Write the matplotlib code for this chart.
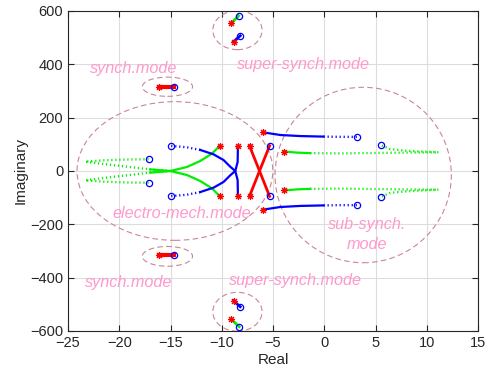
import matplotlib
matplotlib.use("Agg")
import matplotlib.pyplot as plt
from matplotlib.patches import Ellipse

plt.rcParams['font.family'] = ['Liberation Sans', 'DejaVu Sans']

# ---------------- data ----------------
# electro-mechanical mode, green loci (dotted part, solid part)
em_green_up_dot_x = [-17.14, -19.25, -21.53, -23.32, -21.5, -19.2, -16.98, -15.02]
em_green_up_dot_y = [44, 43, 40, 35, 26, 16, 6, 0]
em_green_up_sol_x = [-16.98, -15.02, -13.4, -12.1, -10.96, -10.21]
em_green_up_sol_y = [6, 0, -15, -37.5, -65, -94]
em_green_lo_dot_x = [-17.14, -19.25, -21.53, -23.32, -21.5, -19.2, -16.98, -15.02]
em_green_lo_dot_y = [-44, -43, -40, -35, -26, -16, -6, 0]
em_green_lo_sol_x = [-16.98, -15.02, -13.4, -12.1, -10.96, -10.21]
em_green_lo_sol_y = [-6, 0, 15, 37.5, 65, 94]

# electro-mechanical mode, blue loci
em_blue_up_dot_x = [-14.93, -13.4, -12.1]
em_blue_up_dot_y = [94, 89, 79]
em_blue_up_sol_x = [-12.1, -10.8, -9.82, -9.17, -8.68, -8.45, -8.42]
em_blue_up_sol_y = [79, 62.5, 41, 16, 0, -34, -94]
em_blue_lo_dot_x = [-14.93, -13.4, -12.1]
em_blue_lo_dot_y = [-94, -89, -79]
em_blue_lo_sol_x = [-12.1, -10.8, -9.82, -9.17, -8.68, -8.45, -8.42]
em_blue_lo_sol_y = [-79, -62.5, -41, -16, 0, 34, 94]

# red cross
red_x_a = [-7.29, -5.33]
red_y_a = [94, -95]
red_x_b = [-7.29, -5.33]
red_y_b = [-94, 95]

# sub-synchronous mode, blue
ss_blue_up_sol_x = [-5.98, -4.29, -2.34, -0.07]
ss_blue_up_sol_y = [145, 135, 131, 129]
ss_blue_up_dot_x = [-0.07, 1.56, 3.19]
ss_blue_up_dot_y = [129, 128, 128]
ss_blue_lo_sol_x = [-5.98, -4.29, -2.34, -0.07]
ss_blue_lo_sol_y = [-145, -135, -131, -129]
ss_blue_lo_dot_x = [-0.07, 1.56, 3.19]
ss_blue_lo_dot_y = [-129, -128, -128]

# sub-synchronous mode, green
ss_green_up_sol_x = [-3.97, -2.67, -1.37]
ss_green_up_sol_y = [73, 69, 67]
ss_green_up_dot_x = [-1.37, 1.56, 4.81, 8.07, 11.15, 8.07, 6.44, 5.53]
ss_green_up_dot_y = [67, 66, 67.5, 69, 70, 76, 82, 97]
ss_green_lo_sol_x = [-3.97, -2.67, -1.37]
ss_green_lo_sol_y = [-73, -69, -67]
ss_green_lo_dot_x = [-1.37, 1.56, 4.81, 8.07, 11.15, 8.07, 6.44, 5.53]
ss_green_lo_dot_y = [-67, -66, -67.5, -69, -70, -76, -82, -97]

# synchronous mode
syn_x = [-16.17, -14.63]
syn_up_y = [316, 316]
syn_lo_y = [-316, -316]

# super-synchronous mode
sup_green_up_x = [-9.07, -8.36]
sup_green_up_y = [554, 582]
sup_blue_up_x = [-8.85, -8.2]
sup_blue_up_y = [485, 507]
sup_blue_lo_x = [-8.85, -8.2]
sup_blue_lo_y = [-487, -509]
sup_green_lo_x = [-9.07, -8.3]
sup_green_lo_y = [-556, -584]

# poles (stars) and zeros (circles)
star_x = [-10.21, -10.21, -8.42, -8.42, -7.29, -7.29, -5.98, -5.98, -3.97, -3.97,
          -16.17, -16.17, -9.07, -8.85, -8.85, -9.07]
star_y = [94, -94, 94, -94, 94, -94, 145, -145, 73, -73,
          316, -316, 554, 485, -487, -556]
circ_x = [-17.14, -17.14, -14.93, -14.93, -5.33, -5.33, 3.19, 3.19, 5.53, 5.53,
          -14.63, -14.63, -8.36, -8.2, -8.2, -8.3]
circ_y = [44, -44, 94, -94, 95, -95, 128, -128, 97, -97,
          316, -316, 582, 507, -509, -584]

# annotation ellipses: centre x, centre y, width, height
ell_cx = [-15.3, -15.3, -8.47, -8.47, -14.57, 3.8]
ell_cy = [316, -320, 528, -528, 0, -15]
ell_w = [4.9, 4.9, 4.8, 4.8, 19.1, 17.2]
ell_h = [72, 74, 146, 146, 520, 658]

# labels
lab_text = ['synch.mode', 'super-synch.mode', 'electro-mech.mode',
            'sub-synch.\nmode', 'synch.mode', 'super-synch.mode']
lab_x = [-18.6, -2.0, -13.9, 4.2, -19.1, -2.8]
lab_y = [385, 401, -159, -238, -417, -409]

x_ticks = [-25, -20, -15, -10, -5, 0, 5, 10, 15]
y_ticks = [-600, -400, -200, 0, 200, 400, 600]

# ---------------- drawing ----------------
fig = plt.figure(figsize=(4.94, 3.76), dpi=100)
ax = fig.add_axes([68 / 494, 1 - 331 / 376, 410 / 494, 320 / 376])

DOT = (0, (0.5, 1.2))
GREEN = '#00ee00'
BLUE = '#0000ff'
RED = '#ff0000'

def dot(x, y, c):
    ax.plot(x, y, color=c, lw=1.7, ls=DOT, zorder=3)

def sol(x, y, c, lw=1.6):
    ax.plot(x, y, color=c, lw=lw, ls='-', zorder=3)

dot(em_green_up_dot_x, em_green_up_dot_y, GREEN)
sol(em_green_up_sol_x, em_green_up_sol_y, GREEN)
dot(em_green_lo_dot_x, em_green_lo_dot_y, GREEN)
sol(em_green_lo_sol_x, em_green_lo_sol_y, GREEN)

dot(em_blue_up_dot_x, em_blue_up_dot_y, BLUE)
sol(em_blue_up_sol_x, em_blue_up_sol_y, BLUE)
dot(em_blue_lo_dot_x, em_blue_lo_dot_y, BLUE)
sol(em_blue_lo_sol_x, em_blue_lo_sol_y, BLUE)

sol(red_x_a, red_y_a, RED, 2.0)
sol(red_x_b, red_y_b, RED, 2.0)

sol(ss_blue_up_sol_x, ss_blue_up_sol_y, BLUE)
dot(ss_blue_up_dot_x, ss_blue_up_dot_y, BLUE)
sol(ss_blue_lo_sol_x, ss_blue_lo_sol_y, BLUE)
dot(ss_blue_lo_dot_x, ss_blue_lo_dot_y, BLUE)

sol(ss_green_up_sol_x, ss_green_up_sol_y, GREEN)
dot(ss_green_up_dot_x, ss_green_up_dot_y, GREEN)
sol(ss_green_lo_sol_x, ss_green_lo_sol_y, GREEN)
dot(ss_green_lo_dot_x, ss_green_lo_dot_y, GREEN)

sol(syn_x, syn_up_y, RED, 3.0)
sol(syn_x, syn_lo_y, RED, 3.0)

sol(sup_green_up_x, sup_green_up_y, GREEN, 2.0)
sol(sup_blue_up_x, sup_blue_up_y, BLUE, 2.0)
sol(sup_blue_lo_x, sup_blue_lo_y, BLUE, 2.0)
sol(sup_green_lo_x, sup_green_lo_y, GREEN, 2.0)

ax.plot(star_x, star_y, ls='none', marker=(8, 2, 0), ms=5, mew=0.8,
        color=RED, zorder=4)
ax.plot(circ_x, circ_y, ls='none', marker='o', ms=4.5, mew=0.9,
        mfc='none', mec=BLUE, zorder=4)

for cx, cy, w, h in zip(ell_cx, ell_cy, ell_w, ell_h):
    ax.add_patch(Ellipse((cx, cy), w, h, fill=False, ec='#c98595',
                         lw=0.8, ls=(0, (5, 3)), zorder=2))

for t, x, y in zip(lab_text, lab_x, lab_y):
    ax.text(x, y, t, color='#ff99cc', fontsize=11.7, style='italic',
            ha='center', va='center', zorder=5, linespacing=1.4)

ax.set_xlim(-25, 15)
ax.set_ylim(-600, 600)
ax.set_xticks(x_ticks)
ax.set_yticks(y_ticks)
ax.tick_params(direction='in', top=True, right=True, length=4, width=0.8,
               labelsize=10.5, colors='#262626')
ax.grid(True, color='#dddddd', lw=0.8)
ax.set_axisbelow(True)
for s in ax.spines.values():
    s.set_color('#262626')
    s.set_linewidth(0.8)
ax.set_xlabel('Real', fontsize=11, color='#262626', labelpad=2)
ax.set_ylabel('Imaginary', fontsize=11, color='#262626', labelpad=2)

fig.savefig('out.png', dpi=100)
